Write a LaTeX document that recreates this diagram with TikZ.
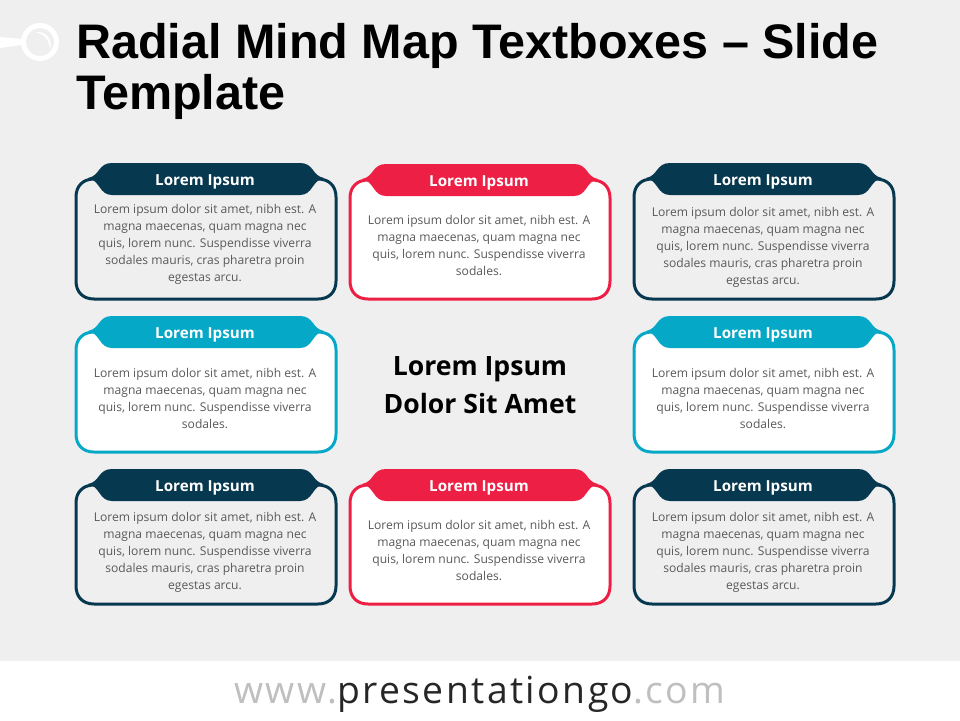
\documentclass[tikz,border=0pt]{standalone}
\usepackage{fontspec}
\usepackage{xcolor}
\setmainfont{Open Sans}
\newfontfamily\headfont{Liberation Sans}
\newfontfamily\webfont[LetterSpace=6.5]{Open Sans}
\usetikzlibrary{positioning}
\definecolor{navy}{HTML}{06384F}
\definecolor{ruby}{HTML}{EE1F45}
\definecolor{teal}{HTML}{05A9C7}
\definecolor{slidebg}{HTML}{F0EFF0}
\definecolor{bodygray}{HTML}{595959}
\definecolor{webgray}{HTML}{BFBFBF}
\definecolor{webdark}{HTML}{262626}
\tikzset{
    tabtitle/.style={text=white, font=\bfseries\fontsize{15.2}{17}\selectfont, inner sep=0pt},
    tabbody/.style={text=bodygray, align=center, font=\fontsize{12.1}{17}\selectfont, inner sep=0pt}
}
\newcommand{\longtext}{Lorem ipsum dolor sit amet, nibh est. A\\magna maecenas, quam magna nec\\quis, lorem nunc. Suspendisse viverra\\sodales mauris, cras pharetra proin\\egestas arcu.}
\newcommand{\shorttext}{Lorem ipsum dolor sit amet, nibh est. A\\magna maecenas, quam magna nec\\quis, lorem nunc. Suspendisse viverra\\sodales.}
% name, centre x, tab top, body height, colour, fill, text y, text
\newcommand{\tabbox}[8]{
\begin{scope}[shift={(#2,#3)}]
\draw[line width=3pt, draw=#5, fill=#6] (-130,34) .. controls (-130,23) and (-123,16) .. (-112,16) -- (112,16) .. controls (123,16) and (130,23) .. (130,34) -- (130,#4-18) .. controls (130,#4-7) and (123,#4) .. (112,#4) -- (-112,#4) .. controls (-123,#4) and (-130,#4-7) .. (-130,#4-18) -- cycle;
\fill[#5] (-118,15) .. controls (-106,13) and (-108,0) .. (-94,0) -- (94,0) .. controls (108,0) and (106,13) .. (118,15) .. controls (106,17) and (107,32) .. (94,32) -- (-94,32) .. controls (-107,32) and (-106,17) .. (-118,15) -- cycle;
\node[tabtitle] (#1title) at (-1,18.5) {Lorem Ipsum};
\node[tabbody] (#1text) at (-1,#7) {#8};
\end{scope}
}
\begin{document}
\begin{tikzpicture}[x=1pt, y=-1pt]
\useasboundingbox (0,0) rectangle (960,720);
\fill[slidebg] (0,0) rectangle (960,661);
\fill[white] (0,661) rectangle (960,720);
% pin in the corner
\fill[white] (0,37) -- (22,39) -- (22,45) -- (0,48) -- cycle;
\draw[white, line width=5pt] (40,42) circle (16.5);
\fill[white] (35,32) .. controls (46,31) and (53,39) .. (50,51) .. controls (50,41) and (45,34) .. (35,32) -- cycle;
\node[anchor=north west, inner sep=0pt, align=left, font=\headfont\bfseries\fontsize{48.5}{51.5}\selectfont] (heading) at (76,23) {Radial Mind Map Textboxes – Slide\\Template};
% boxes
\tabbox{a}{206}{163}{136}{navy}{slidebg}{81.5}{\longtext}
\tabbox{b}{480}{164}{135}{ruby}{white}{81.5}{\shorttext}
\tabbox{c}{764}{163}{136}{navy}{slidebg}{84.5}{\longtext}
\tabbox{d}{206}{316}{136}{teal}{white}{82.5}{\shorttext}
\tabbox{e}{764}{316}{136}{teal}{white}{82.5}{\shorttext}
\tabbox{f}{206}{469}{135}{navy}{slidebg}{83}{\longtext}
\tabbox{g}{480}{469}{135}{ruby}{white}{81.5}{\shorttext}
\tabbox{h}{764}{469}{135}{navy}{slidebg}{83}{\longtext}
\node[align=center, inner sep=0pt, font=\bfseries\fontsize{26.6}{38}\selectfont] (centre) at (480,385) {Lorem Ipsum\\Dolor Sit Amet};
\node[inner sep=0pt, font=\webfont\fontsize{37.3}{40}\selectfont] (web) at (480,694) {\textcolor{webgray}{www.}\textcolor{webdark}{presentationgo}\textcolor{webgray}{.com}};
\end{tikzpicture}
\end{document}
